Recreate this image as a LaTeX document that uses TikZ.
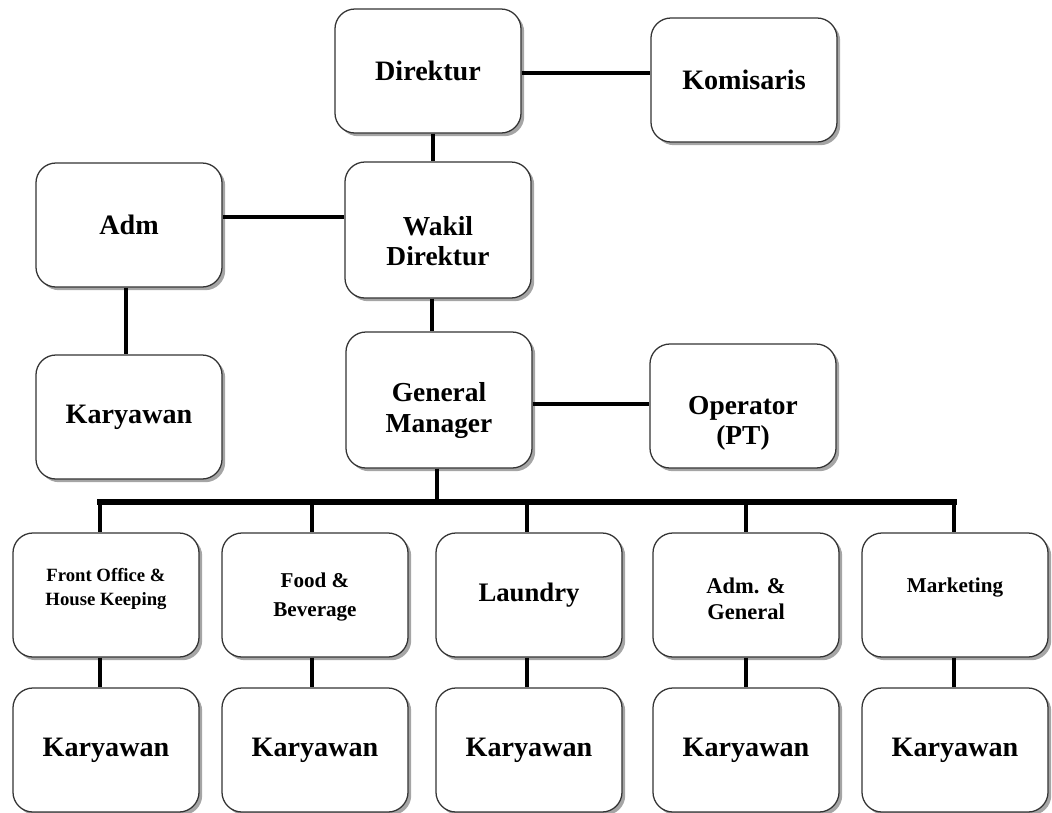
\documentclass[tikz,border=0pt]{standalone}
\usepackage{fontspec}
\setmainfont{Liberation Serif}
\usetikzlibrary{shadows}

\tikzset{
 box/.style={draw=black!80, line width=0.9pt, rounded corners=0.5cm, fill=white,
  minimum width=4.65cm, minimum height=3.1cm, align=center,
  font=\bfseries\fontsize{20}{22}\selectfont,
  drop shadow={shadow xshift=0.08cm, shadow yshift=-0.08cm, fill=black!70}},
 tall/.style={box, minimum height=3.4cm},
 txt/.style={align=center, font=\bfseries\fontsize{19.5}{21.5}\selectfont},
 conn/.style={line width=2.8pt},
 bus/.style={line width=4pt, line cap=rect}
}

\begin{document}
\begin{tikzpicture}[x=0.025cm, y=-0.025cm]
\useasboundingbox (0,0) rectangle (1052,812);

 \node[box] (dir) at (428,71) {Direktur};
 \node[box] (kom) at (744,80) {Komisaris};
 \node[box] (adm) at (129,225) {Adm};
 \node[tall, label={[txt, yshift=-0.27cm]center:Wakil\\Direktur}] (wakil) at (438,230) {};
 \node[box] (kar0) at (129,417) {Karyawan};
 \node[tall, label={[txt, yshift=-0.26cm]center:General\\Manager}] (gm) at (439,400) {};
 \node[box, label={[txt, yshift=-0.44cm]center:Operator\\(PT)}] (op) at (743,406) {};

 \node[box, label={[txt, font=\bfseries\fontsize{13.3}{17}\selectfont, yshift=0.15cm]center:Front Office \&\\House Keeping}] (fo) at (106,595) {};
 \node[box, label={[txt, font=\bfseries\fontsize{15}{20}\selectfont, yshift=-0.05cm]center:Food \&\\Beverage}] (fb) at (315,595) {};
 \node[box, font=\bfseries\fontsize{19}{21}\selectfont] (ld) at (529,595) {Laundry};
 \node[box, label={[txt, font=\bfseries\fontsize{16}{18.5}\selectfont, yshift=-0.1cm]center:Adm. \&\\General}] (ag) at (746,595) {};
 \node[box, label={[txt, font=\bfseries\fontsize{15}{18}\selectfont, yshift=0.18cm]center:Marketing}] (mk) at (955,595) {};

 \node[box] (kfo) at (106,750) {Karyawan};
 \node[box] (kfb) at (315,750) {Karyawan};
 \node[box] (kld) at (529,750) {Karyawan};
 \node[box] (kag) at (746,750) {Karyawan};
 \node[box] (kmk) at (955,750) {Karyawan};

\coordinate (bus) at (437,502);

\draw[conn] ([yshift=-0.05cm]dir.east) -- ([yshift=-0.05cm]dir.east -| kom.west);
\draw[conn] ([xshift=0.125cm]dir.south) -- ([xshift=0.125cm]dir.south |- wakil.north);
\draw[conn] ([yshift=0.2cm]adm.east) -- ([yshift=0.2cm]adm.east -| wakil.west);
\draw[conn] ([xshift=-0.08cm]adm.south) -- ([xshift=-0.08cm]adm.south |- kar0.north);
\draw[conn] ([xshift=-0.14cm]wakil.south) -- ([xshift=-0.14cm]wakil.south |- gm.north);
\draw[conn] ([yshift=-0.09cm]gm.east) -- ([yshift=-0.09cm]gm.east -| op.west);
\draw[conn] ([xshift=-0.06cm]gm.south) -- ([xshift=-0.06cm]gm.south |- bus);

\draw[bus] ([xshift=-0.15cm]fo.north |- bus) -- ([xshift=-0.03cm]mk.north |- bus);
\foreach \b/\k/\s in {fo/kfo/-0.15, fb/kfb/-0.07, ld/kld/-0.05, ag/kag/0, mk/kmk/-0.03}{
 \draw[conn] ([xshift=\s cm]\b.north |- bus) -- ([xshift=\s cm]\b.north);
 \draw[conn] ([xshift=\s cm]\b.south) -- ([xshift=\s cm]\b.south |- \k.north);
}

\end{tikzpicture}
\end{document}
